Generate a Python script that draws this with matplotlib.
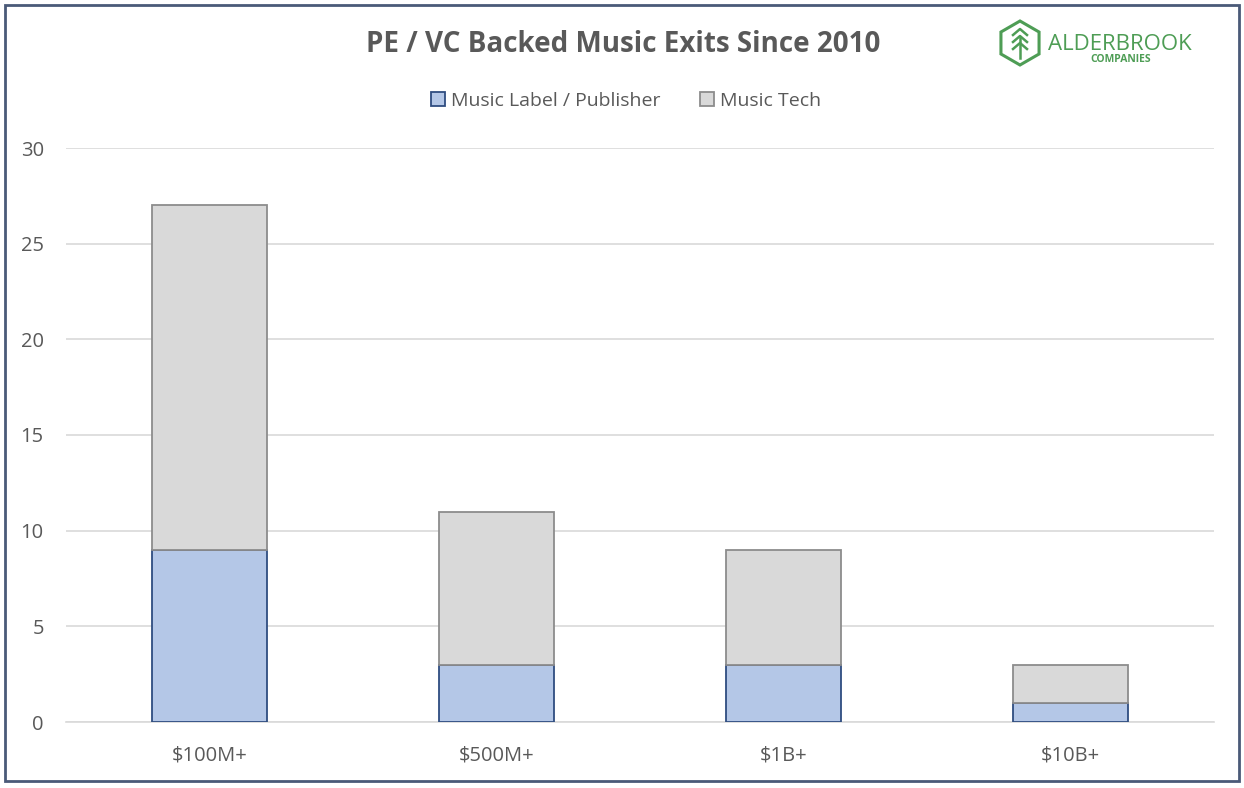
import matplotlib
matplotlib.use("Agg")
import matplotlib.pyplot as plt
from matplotlib.patches import Rectangle, RegularPolygon
import numpy as np

categories = ["$100M+", "$500M+", "$1B+", "$10B+"]
label_publisher = [9, 3, 3, 1]
music_tech = [18, 8, 6, 2]
yticks = [0, 5, 10, 15, 20, 25, 30]

plt.rcParams['font.family'] = ['Open Sans', 'DejaVu Sans']
text_color = '#595959'

fig = plt.figure(figsize=(12.44, 7.88), dpi=100)
ax = fig.add_axes([66/1244, 1-722/788, (1214-66)/1244, (722-148)/788])

x = np.arange(len(categories))
w = 0.404
ax.bar(x, label_publisher, width=w, color='#B4C7E7', edgecolor='#2F4D80',
       linewidth=1.3, label='Music Label / Publisher', zorder=3)
ax.bar(x, music_tech, width=w, bottom=label_publisher, color='#D9D9D9',
       edgecolor='#8C8C8C', linewidth=1.3, label='Music Tech', zorder=3)

ax.set_xlim(-0.5, len(categories) - 0.5)
ax.set_ylim(0, 30)
ax.set_yticks(yticks)
ax.set_xticks(x)
ax.set_xticklabels(categories)
ax.yaxis.grid(True, color='#D9D9D9', linewidth=1.2, zorder=0)
ax.set_axisbelow(True)
for s in ['top', 'right', 'left']:
    ax.spines[s].set_visible(False)
ax.spines['bottom'].set_color('#D9D9D9')
ax.spines['bottom'].set_linewidth(1.2)
ax.tick_params(axis='both', length=0, labelsize=14.5, labelcolor=text_color)
ax.tick_params(axis='y', pad=16)
ax.tick_params(axis='x', pad=17)

fig.text(623/1244, 1-45/788, "PE / VC Backed Music Exits Since 2010", ha='center', va='center',
         fontsize=20, fontweight='bold', color=text_color)

leg = fig.legend(loc='center', bbox_to_anchor=(626/1244, 1-101/788), ncol=2, frameon=False,
                 fontsize=14, labelcolor=text_color, handlelength=0.75, handleheight=0.75,
                 columnspacing=2.0, handletextpad=0.3)

# Logo
green = '#4E9D55'
cx, cy = 1020, 788-43
hexagon = RegularPolygon((cx, cy), numVertices=6, radius=22, orientation=0,
                         facecolor='none', edgecolor=green, linewidth=2.2,
                         transform=None)
fig.add_artist(hexagon)
for yy in [29, 36, 43]:
    fig.add_artist(plt.Line2D([cx-7, cx, cx+7], [788-yy-6, 788-yy, 788-yy-6],
                              color=green, linewidth=1.8, transform=None))
fig.add_artist(plt.Line2D([cx, cx], [788-38, 788-58], color=green, linewidth=1.8, transform=None))
fig.text(1048/1244, 1-44/788, "ALDERBROOK", ha='left', va='center', fontsize=16,
         color=green)
fig.text(1121/1244, 1-60/788, "COMPANIES", ha='center', va='center', fontsize=7.5,
         color=green, fontweight='bold')

# Frame
fig.add_artist(Rectangle((5/1244, 1-781/788), 1234/1244, 776/788, transform=fig.transFigure,
                         fill=False, edgecolor='#4A5A78', linewidth=2))

fig.savefig("out.png", dpi=100)
